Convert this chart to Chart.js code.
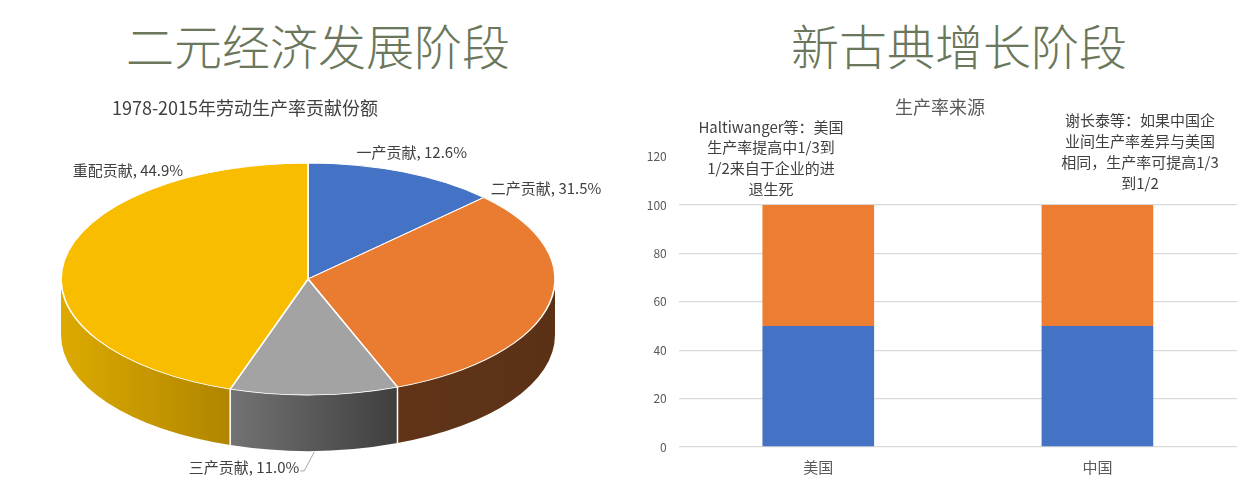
<!DOCTYPE html>
<html lang="zh">
<head>
<meta charset="UTF-8">
<title>二元经济发展阶段 / 新古典增长阶段</title>
<script src="https://cdn.jsdelivr.net/npm/chart.js@4.4.0/dist/chart.umd.min.js"></script>
<style>
  html, body { margin: 0; padding: 0; background: #fff; }
  body { width: 1254px; height: 487px; position: relative; overflow: hidden; font-family: "Noto Sans CJK SC", sans-serif; }
  .heading { position: absolute; top: 12px; font-size: 48px; font-weight: 300; color: #6b775b; line-height: 64px; text-align: center; white-space: nowrap; }
  #h-left { left: 0; width: 636px; }
  #h-right { left: 642px; width: 634px; }
  canvas { position: absolute; top: 0; }
  #pie { left: 0; }
  #bar { left: 627px; }
</style>
</head>
<body>
<div class="heading" id="h-left">二元经济发展阶段</div>
<div class="heading" id="h-right">新古典增长阶段</div>
<canvas id="pie" width="627" height="487"></canvas>
<canvas id="bar" width="627" height="487"></canvas>
<script>
// ---- data ----
const pieTitle = '1978-2015年劳动生产率贡献份额';
const pieLabels = ['一产贡献', '二产贡献', '三产贡献', '重配贡献'];
const pieShares = [12.6, 31.5, 11.0, 44.9];

const barTitle = '生产率来源';
const barCategories = ['美国', '中国'];
const barLower = [50, 50];
const barUpper = [50, 50];
const barTicks = [0, 20, 40, 60, 80, 100, 120];
const noteUS = ['Haltiwanger等：美国', '生产率提高中1/3到', '1/2来自于企业的进', '退生死'];
const noteCN = ['谢长泰等：如果中国企', '业间生产率差异与美国', '相同，生产率可提高1/3', '到1/2'];

const FONT = '"Noto Sans CJK SC", sans-serif';
Chart.defaults.font.family = FONT;

// ---- 3D pie ----
const DEPTH = 56;
const topColors = ['#4472c4', '#e97c30', '#a3a3a3', '#f9bd00'];
const sideColors = [['#2f528f', '#2f528f'], ['#613418', '#5b3115'], ['#737373', '#3e3e3e'], ['#dcaa00', '#b08500']];
// label anchors in ellipse units (x / rx, y / ry from the top face centre)
const labelSpots = [[0.42, -1.095], [0.964, -0.784], [-0.259, 1.62], [-0.729, -0.94]];

function ellipseOf(chart) {
  const a = chart.chartArea;
  const arc = chart.getDatasetMeta(0).data[0];
  const rx = (a.right - a.left) / 2;
  const ry = (a.bottom - a.top - DEPTH) / 2;
  return { cx: (a.left + a.right) / 2, cy: a.top + ry, rx, ry, x0: arc.x, y0: arc.y, R: arc.outerRadius };
}

const pie3d = {
  id: 'pie3d',
  beforeDatasetsDraw(chart) {
    const ctx = chart.ctx, e = ellipseOf(chart);
    const arcs = chart.getDatasetMeta(0).data;
    // side walls of the slices that face the viewer
    arcs.forEach((arc, i) => {
      const a0 = Math.max(arc.startAngle, 0), a1 = Math.min(arc.endAngle, Math.PI);
      if (a1 <= a0) return;
      const g = ctx.createLinearGradient(e.cx + e.rx * Math.cos(a1), 0, e.cx + e.rx * Math.cos(a0), 0);
      g.addColorStop(0, sideColors[i][0]);
      g.addColorStop(1, sideColors[i][1]);
      ctx.beginPath();
      ctx.ellipse(e.cx, e.cy, e.rx, e.ry, 0, a0, a1);
      ctx.ellipse(e.cx, e.cy + DEPTH, e.rx, e.ry, 0, a1, a0, true);
      ctx.closePath();
      ctx.fillStyle = g;
      ctx.fill();
    });
    ctx.strokeStyle = '#ffffff';
    ctx.lineWidth = 1.5;
    arcs.forEach(arc => {
      const a = arc.startAngle;
      if (a > 0 && a < Math.PI) {
        const x = e.cx + e.rx * Math.cos(a), y = e.cy + e.ry * Math.sin(a);
        ctx.beginPath();
        ctx.moveTo(x, y);
        ctx.lineTo(x, y + DEPTH);
        ctx.stroke();
      }
    });
    // squash the library's pie onto the top face
    ctx.save();
    ctx.translate(e.cx, e.cy);
    ctx.scale(e.rx / e.R, e.ry / e.R);
    ctx.translate(-e.x0, -e.y0);
  },
  afterDatasetsDraw(chart) {
    chart.ctx.restore();
  },
  afterDraw(chart) {
    const ctx = chart.ctx, e = ellipseOf(chart);
    const arcs = chart.getDatasetMeta(0).data;
    ctx.save();
    ctx.fillStyle = '#404040';
    ctx.textAlign = 'center';
    ctx.textBaseline = 'middle';
    ctx.font = '18px ' + FONT;
    ctx.fillText(pieTitle, 245, 108);
    ctx.font = '15px ' + FONT;
    pieLabels.forEach((name, i) => {
      const txt = name + ', ' + pieShares[i].toFixed(1) + '%';
      const x = e.cx + labelSpots[i][0] * e.rx, y = e.cy + labelSpots[i][1] * e.ry;
      ctx.fillText(txt, x, y);
      if (labelSpots[i][1] > 1) {
        // leader line from a front label up to its wall
        const mid = (arcs[i].startAngle + arcs[i].endAngle) / 2;
        const w = ctx.measureText(txt).width;
        const tx = e.cx + e.rx * Math.cos(mid), ty = e.cy + e.ry * Math.sin(mid) + DEPTH;
        ctx.strokeStyle = '#a6a6a6';
        ctx.lineWidth = 1;
        ctx.beginPath();
        ctx.moveTo(x + w / 2 + 1, y + 4);
        ctx.lineTo(x + w / 2 + 5, y + 4);
        ctx.lineTo(tx, ty + 1);
        ctx.stroke();
      }
    });
    ctx.restore();
  }
};

new Chart(document.getElementById('pie'), {
  type: 'pie',
  data: {
    labels: pieLabels,
    datasets: [{
      data: pieShares,
      backgroundColor: topColors,
      borderColor: '#ffffff',
      borderWidth: 1,
      hoverOffset: 0,
      clip: false
    }]
  },
  options: {
    responsive: false,
    animation: false,
    events: [],
    layout: { padding: { left: 61, right: 72, top: 163, bottom: 36 } },
    plugins: { legend: { display: false }, tooltip: { enabled: false } }
  },
  plugins: [pie3d]
});

// ---- stacked bars ----
const barText = {
  id: 'barText',
  afterDraw(chart) {
    const ctx = chart.ctx;
    ctx.save();
    ctx.textAlign = 'center';
    ctx.textBaseline = 'middle';
    ctx.fillStyle = '#595959';
    ctx.font = '18px ' + FONT;
    ctx.fillText(barTitle, 313, 107);
    ctx.fillStyle = '#404040';
    ctx.font = '15px ' + FONT;
    noteUS.forEach((line, i) => ctx.fillText(line, 144, 127 + i * 20.7));
    noteCN.forEach((line, i) => ctx.fillText(line, 513, 120 + i * 21.2));
    ctx.restore();
  }
};

new Chart(document.getElementById('bar'), {
  type: 'bar',
  data: {
    labels: barCategories,
    datasets: [
      { data: barLower, backgroundColor: '#4472c4', barPercentage: 0.4, categoryPercentage: 1 },
      { data: barUpper, backgroundColor: '#ed7d31', barPercentage: 0.4, categoryPercentage: 1 }
    ]
  },
  options: {
    responsive: false,
    animation: false,
    events: [],
    layout: { padding: { left: 11.7, right: 17, top: 156.6, bottom: 0 } },
    plugins: { legend: { display: false }, tooltip: { enabled: false } },
    scales: {
      x: {
        stacked: true,
        grid: { display: false },
        border: { display: false },
        ticks: { color: '#595959', font: { size: 15 }, padding: 3 },
        afterFit: s => { s.height = 40; }
      },
      y: {
        stacked: true,
        min: barTicks[0],
        max: barTicks[barTicks.length - 1],
        ticks: { stepSize: barTicks[1] - barTicks[0], color: '#595959', font: { size: 12 }, padding: 12 },
        grid: {
          drawTicks: false,
          lineWidth: 1.3,
          color: c => (c.tick && c.tick.value === barTicks[barTicks.length - 1]) ? 'rgba(0,0,0,0)' : '#d9d9d9'
        },
        border: { display: false },
        afterFit: s => { s.width = 40; }
      }
    }
  },
  plugins: [barText]
});
</script>
</body>
</html>
